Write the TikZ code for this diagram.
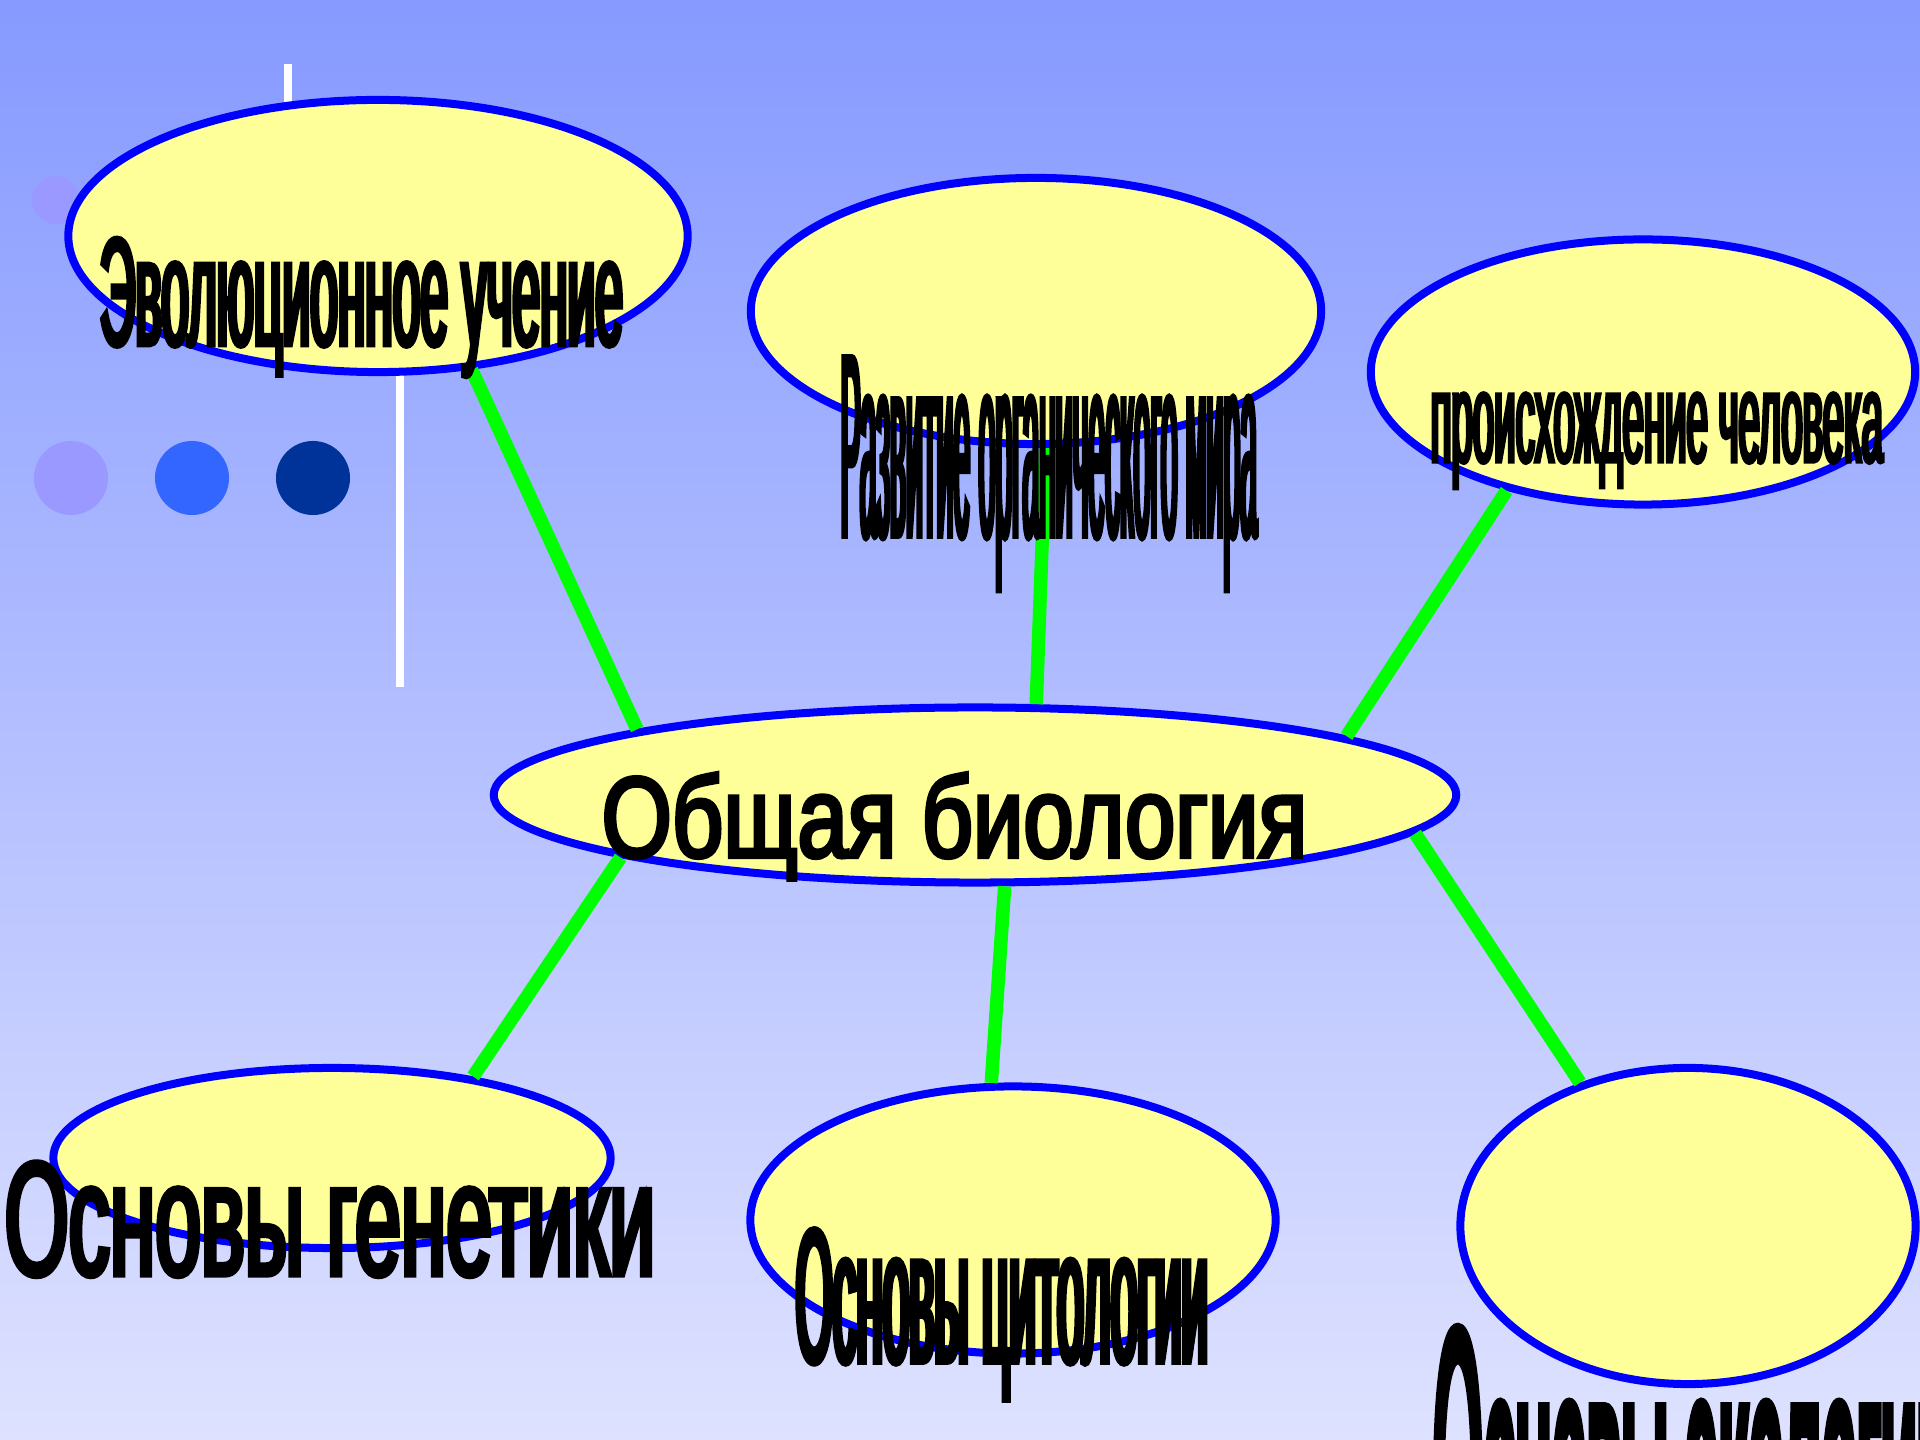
\documentclass[tikz,border=0pt]{standalone}
\usepackage{fontspec}
\setmainfont{Liberation Sans}
\usepackage{graphicx}
\usepackage{xcolor}
\usepackage{tikz}
\usetikzlibrary{shapes.geometric}

\definecolor{bgtop}{RGB}{134,154,255}
\definecolor{bgbottom}{RGB}{222,226,255}
\definecolor{topicfill}{RGB}{255,255,153}
\definecolor{linkgreen}{RGB}{0,255,0}
\definecolor{dotlilac}{RGB}{153,153,255}
\definecolor{dotblue}{RGB}{51,102,255}
\definecolor{dotnavy}{RGB}{0,51,153}

% narrow, heavy lettering: size, stretch, stroke
\newcommand{\narrowfont}[3]{\fontsize{#1}{#1}\selectfont\addfontfeatures{FakeStretch=#2, FakeBold=#3}}

\begin{document}
\begin{tikzpicture}[x=0.01cm, y=-0.01cm,
    topic/.style={ellipse, draw=blue, fill=topicfill, line width=0.08cm, inner sep=0pt},
    link/.style={draw=linkgreen, line width=0.135cm},
    lbl/.style={inner sep=0pt, anchor=base west, text=black}]
  \useasboundingbox (0,0) rectangle (1920,1440);
  \clip (0,0) rectangle (1920,1440);

  % Background
  \shade[top color=bgtop, bottom color=bgbottom] (0,0) rectangle (1920,1440);

  % Slide decoration
  \draw[white, line width=0.08cm] (288,64) -- (288,200);
  \draw[white, line width=0.08cm] (400,200) -- (400,687);
  \fill[dotlilac] (56,200) circle (0.24cm);
  \foreach \cx/\col in {71/dotlilac, 192/dotblue, 313/dotnavy}{
    \fill[\col] (\cx,478) circle (0.37cm);
  }

  % Topics
  \node[topic, minimum width=6.19cm, minimum height=2.72cm] (evol) at (378,236) {};
  \node[topic, minimum width=5.70cm, minimum height=2.66cm] (razv) at (1036,311) {};
  \node[topic, minimum width=5.44cm, minimum height=2.65cm] (proish) at (1643,372) {};
  \node[topic, minimum width=9.62cm, minimum height=1.75cm] (obsh) at (975,795) {};
  \node[topic, minimum width=5.57cm, minimum height=1.80cm] (gen) at (332,1158) {};
  \node[topic, minimum width=5.25cm, minimum height=2.67cm] (cyt) at (1013,1220) {};
  \node[topic, minimum width=4.55cm, minimum height=3.16cm] (ecol) at (1688,1226) {};

  % Links to the centre
  \draw[link] (evol.-55) -- (obsh.169.5);
  \draw[link] (razv.-86) -- (obsh.56);
  \draw[link] (proish.221) -- (obsh.9);
  \draw[link] (obsh.190) -- (gen.30);
  \draw[link] (obsh.-72) -- (cyt.99);
  \draw[link] (obsh.-5.5) -- (ecol.127);

  % Labels
  \node[lbl, font=\narrowfont{1.47cm}{0.337}{3.1}] (evoltxt) at (99,345)
    {\resizebox{5.23cm}{1.07cm}{Эволюционное учение}};
  \node[lbl, font=\narrowfont{2.53cm}{0.119}{1.4}] (razvtxt) at (840,537)
    {\resizebox{4.16cm}{1.81cm}{Развитие органического мира}};
  \node[lbl, font=\narrowfont{1.28cm}{0.298}{2.7}] (proishtxt) at (1430,462)
    {\resizebox{4.52cm}{0.69cm}{происхождение человека}};
  \node[lbl, font=\narrowfont{1.17cm}{0.83}{3.5}] (obshtxt) at (601,857)
    {\resizebox{7.05cm}{0.84cm}{Общая биология}};
  \node[lbl, font=\narrowfont{1.55cm}{0.53}{3.3}] (gentxt) at (4,1275)
    {\resizebox{6.50cm}{1.13cm}{Основы генетики}};
  \node[lbl, font=\narrowfont{1.83cm}{0.262}{3.0}] (cyttxt) at (795,1362)
    {\resizebox{4.12cm}{1.33cm}{Основы цитологии}};
  \node[lbl, font=\narrowfont{4.48cm}{0.146}{1.3}] (ecoltxt) at (1432,1652)
    {\resizebox{5.20cm}{3.26cm}{Основы экологии}};
\end{tikzpicture}
\end{document}
